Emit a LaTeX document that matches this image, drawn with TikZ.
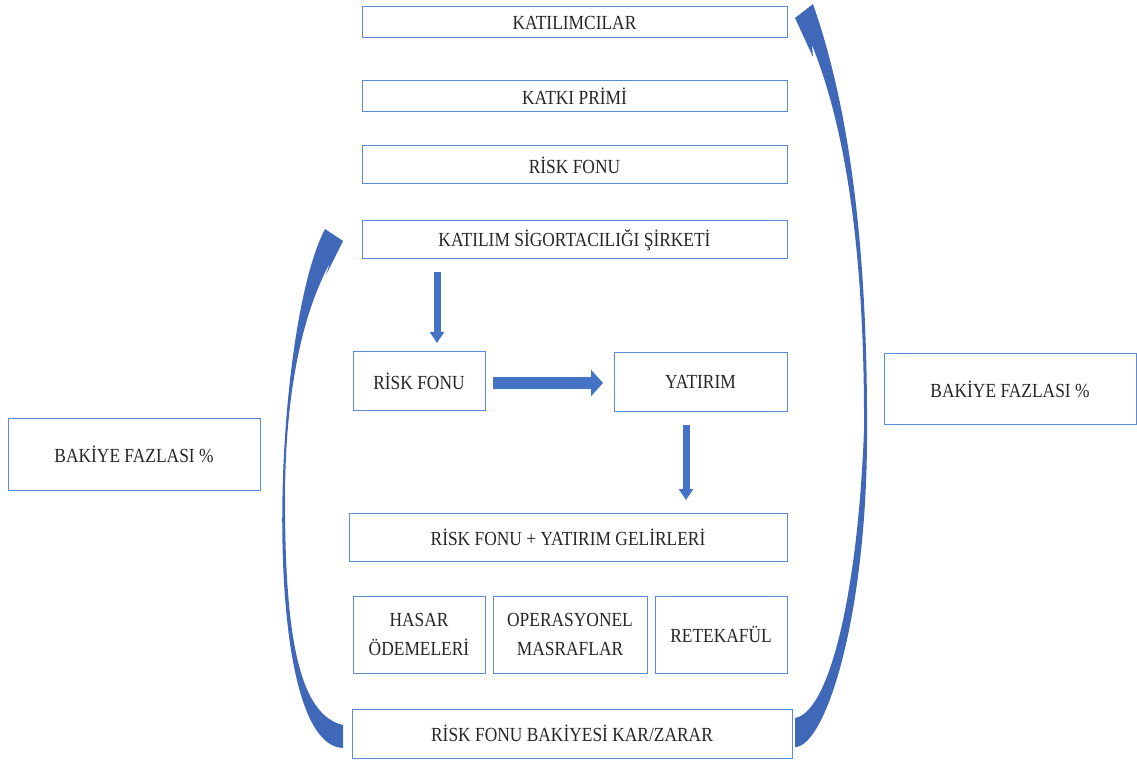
\documentclass[tikz,border=0pt]{standalone}
\usepackage{fontspec}
\setmainfont{Liberation Serif}[FakeStretch=0.87]
\usetikzlibrary{arrows.meta,calc}

\definecolor{boxblue}{HTML}{5B8BD6}
\definecolor{arrowblue}{HTML}{4472C4}
\definecolor{curveblue}{HTML}{4068B8}
\definecolor{textgray}{HTML}{262626}

\tikzset{%
  every box/.style={
    rectangle,
    draw=boxblue,
    line width=0.75pt,
    inner sep=0pt,
    outer sep=0pt,
    align=center,
    text=textgray,
    font=\fontsize{15pt}{21.5pt}\selectfont
  },
  box top/.style={
    minimum width=318.75pt
  },
  box cost/.style={
    minimum height=57.75pt
  },
  fat arrow/.style={
    arrowblue,
    line width=5.25pt,
    -{Triangle[length=8.25pt, width=10.5pt]}
  },
  fat arrow wide/.style={
    arrowblue,
    line width=9pt,
    -{Triangle[length=9pt, width=19.5pt]}
  },
  curved arrow/.style={
    fill=curveblue,
    draw=none
  },
}

\begin{document}
\begin{tikzpicture}[x=0.75pt, y=-0.75pt]
\useasboundingbox (0,0) rectangle (1137,762);

\foreach \l/\y/\h [count=\i] in {KATILIMCILAR/22.5/23.25, KATKI PRİMİ/96.5/23.25, RİSK FONU/165/28.5, KATILIM SİGORTACILIĞI ŞİRKETİ/240/28.5}
  \node [every box, box top, minimum height=\h pt] (top-\i) at (574.5,\y) {\l};

\node [every box, minimum width=99pt, minimum height=43.5pt] (mid-1) at (419,381) {RİSK FONU};
\node [every box, minimum width=129.75pt, minimum height=43.5pt] (mid-2) at (700.5,382) {YATIRIM};

\node [every box, minimum width=328.5pt, minimum height=36pt] (sum) at (568,537) {RİSK FONU + YATIRIM GELİRLERİ};

\foreach \l/\x/\w [count=\i] in {HASAR\\ÖDEMELERİ/419/99, OPERASYONEL\\MASRAFLAR/570/115.5, RETEKAFÜL/721/99}
  \node [every box, box cost, minimum width=\w pt] (cost-\i) at (\x,634.5) {\l};

\node [every box, minimum width=330pt, minimum height=36.75pt] (result) at (572,733.5) {RİSK FONU BAKİYESİ KAR/ZARAR};

\foreach \s/\x/\y in {left/134/454.5, right/1010/389}
  \node [every box, minimum width=189pt, minimum height=53.5pt] (surplus-\s) at (\x,\y) {BAKİYE FAZLASI \%};

% block arrows
\draw [fat arrow] ($(mid-1.north)+(18,-80)$) -- ($(mid-1.north)+(18,-9)$);
\draw [fat arrow wide] ($(mid-1.east)+(8,2)$) -- ($(mid-2.west)+(-11,1)$);
\draw [fat arrow] ($(mid-2.south)+(-14.5,14)$) -- ($(sum.north)+(118,-13)$);

% curved arrows
\fill [curved arrow] (343,748) .. controls (258,745) and (272,330) .. (325,229)
  -- (343,241) -- (326,275) -- (330,263)
  .. controls (300,318) and (285,400) .. (285,500)
  .. controls (285,640) and (300,715) .. (343,725) -- cycle;
\fill [curved arrow] (795,747) .. controls (825,747) and (866,620) .. (867,440)
  .. controls (868,250) and (850,110) .. (813,4)
  -- (795,18) -- (813,57) -- (812,45)
  .. controls (832,95) and (865,200) .. (864,430)
  .. controls (858,590) and (830,712) .. (795,718) -- cycle;

\end{tikzpicture}
\end{document}
